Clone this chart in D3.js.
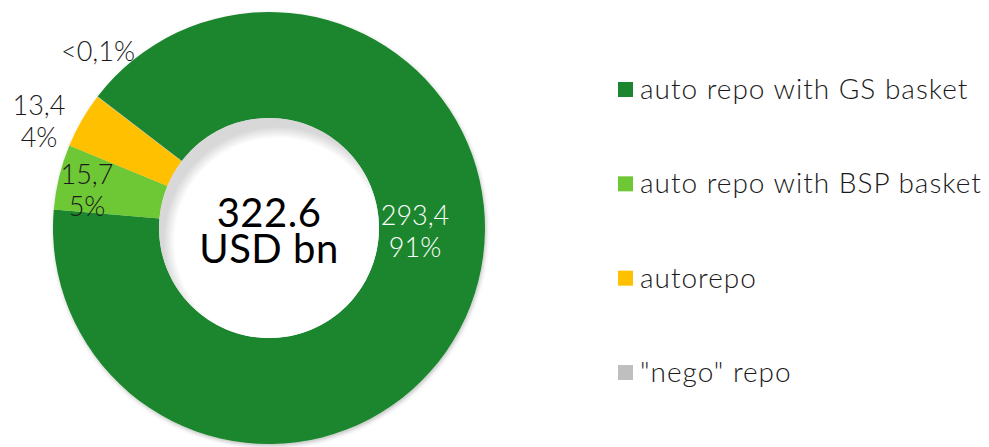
<!DOCTYPE html>
<html>
<head>
<meta charset="utf-8">
<script src="https://cdn.jsdelivr.net/npm/d3@7"></script>
<style>
  html, body { margin: 0; padding: 0; background: #fff; }
  svg { display: block; font-family: Lato, "Open Sans", sans-serif; }
</style>
</head>
<body>
<svg id="chart" width="989" height="447"></svg>
<script>
// Repo market structure, USD bn
const categories = ["auto repo with GS basket", "auto repo with BSP basket", "autorepo", "\"nego\" repo"];
const values = [293.4, 15.7, 13.4, 0.1];
const valueLabels = ["293,4", "15,7", "13,4", ""];
const shareLabels = ["91%", "5%", "4%", "<0,1%"];
const colors = ["#1b862f", "#6ec835", "#ffc000", "#bfbfbf"];
const totalLabel = ["322.6", "USD bn"];

const svg = d3.select("#chart");
const cx = 269, cy = 228, outerR = 216, innerR = 110;

const defs = svg.append("defs");
const shadow = defs.append("filter").attr("id", "soft").attr("x", "-10%").attr("y", "-10%").attr("width", "120%").attr("height", "120%");
shadow.append("feDropShadow").attr("dx", 1).attr("dy", 2).attr("stdDeviation", 2)
  .attr("flood-color", "#000").attr("flood-opacity", 0.25);

const pie = d3.pie().sort(null).value(d => d)
  .startAngle(-52.5 * Math.PI / 180).endAngle((360 - 52.5) * Math.PI / 180);
const arcs = pie(values);
const arc = d3.arc().innerRadius(innerR).outerRadius(outerR);

const g = svg.append("g").attr("transform", `translate(${cx},${cy})`);
g.append("g").attr("filter", "url(#soft)")
  .selectAll("path").data(arcs).join("path")
  .attr("d", arc)
  .attr("fill", (d, i) => colors[i]);

// inner hole shading
const holeShadow = defs.append("radialGradient").attr("id", "hole")
  .attr("cx", "54%").attr("cy", "56%").attr("r", "52%");
holeShadow.append("stop").attr("offset", "0.9").attr("stop-color", "#fff");
holeShadow.append("stop").attr("offset", "1").attr("stop-color", "#d8d8d8");
g.append("circle").attr("r", innerR).attr("fill", "url(#hole)");

// center total
const total = g.append("text").attr("text-anchor", "middle").attr("fill", "#000")
  .style("font-size", "40px").style("letter-spacing", "0.5px");
total.append("tspan").attr("x", 0).attr("y", -1).text(totalLabel[0]);
total.append("tspan").attr("x", 0).attr("y", 35).text(totalLabel[1]);

// slice labels
const labelPos = [
  { x: 415, y: 225, color: "#fff" },
  { x: 87, y: 184, color: "#1a1a1a" },
  { x: 39, y: 115, color: "#1a1a1a" },
  { x: 98, y: 61, color: "#1a1a1a" }
];
arcs.forEach((d, i) => {
  const p = labelPos[i];
  const t = svg.append("text").attr("text-anchor", "middle").attr("fill", p.color)
    .style("font-size", "27px").style("font-weight", 300);
  if (valueLabels[i]) {
    t.append("tspan").attr("x", p.x).attr("y", p.y).text(valueLabels[i]);
    t.append("tspan").attr("x", p.x).attr("y", p.y + 32).text(shareLabels[i]);
  } else {
    t.append("tspan").attr("x", p.x).attr("y", p.y).text(shareLabels[i]);
  }
});

// legend
const legendY = d3.scalePoint().domain(categories).range([90, 373]);
const legend = svg.append("g").selectAll("g").data(categories).join("g")
  .attr("transform", d => `translate(618,${legendY(d)})`);
legend.append("rect").attr("x", 0).attr("y", -8).attr("width", 15).attr("height", 15)
  .attr("fill", (d, i) => colors[i]);
legend.append("text").attr("x", 22).attr("y", 9).attr("fill", "#1a1a1a")
  .style("font-size", "28px").style("font-weight", 300).style("letter-spacing", "1px")
  .text(d => d);
</script>
</body>
</html>
